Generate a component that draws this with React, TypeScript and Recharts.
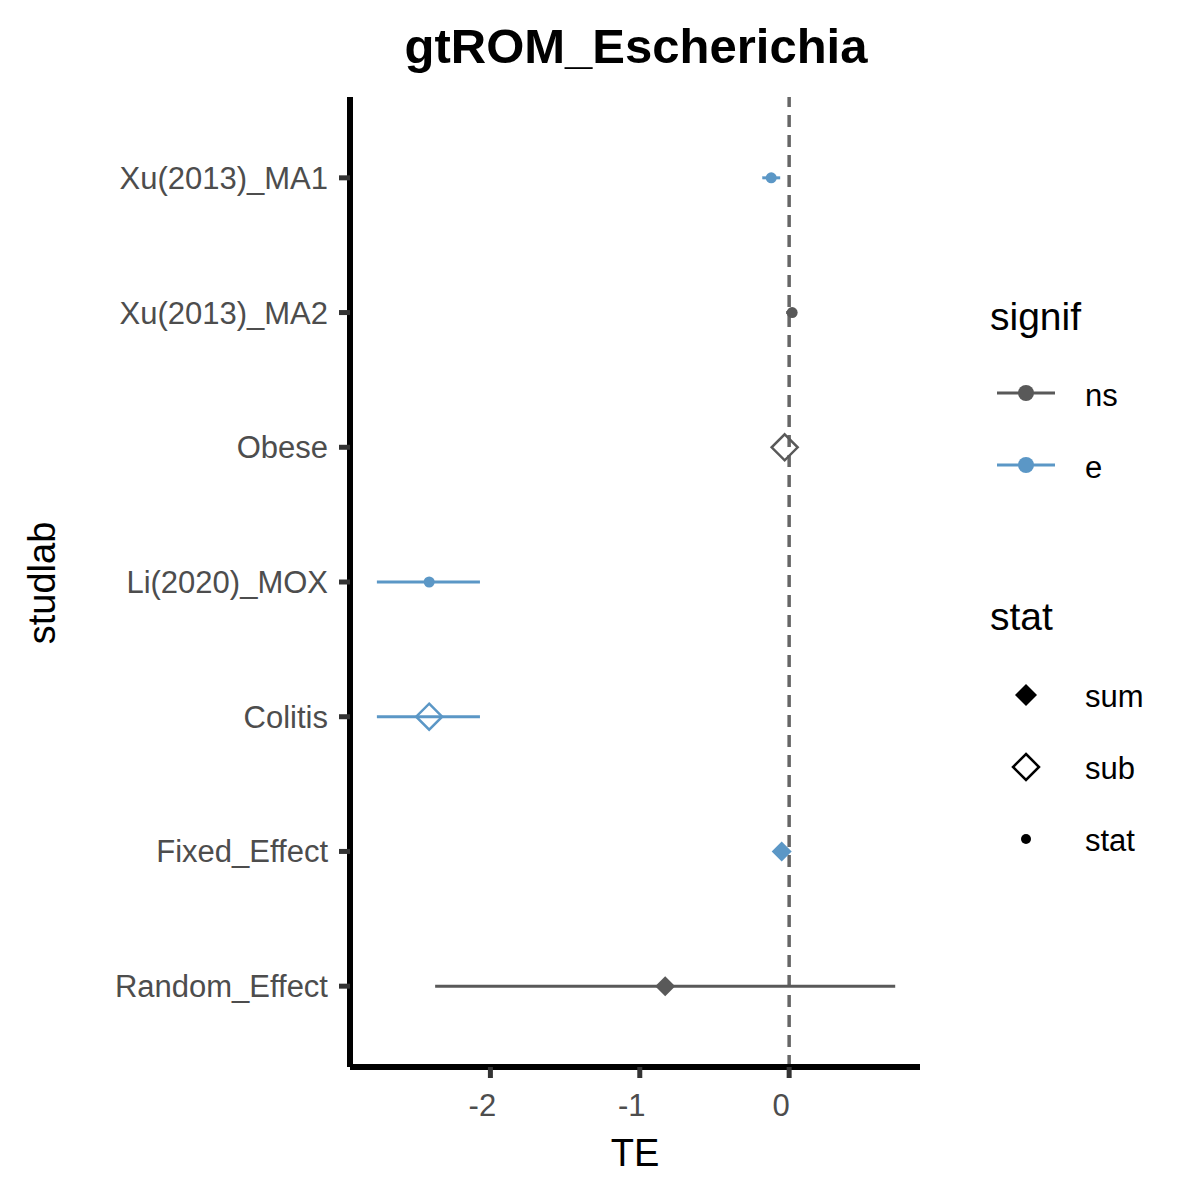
import { ScatterChart, Scatter, XAxis, YAxis, ErrorBar, ReferenceLine } from "recharts";

const labels = ["Xu(2013)_MA1", "Xu(2013)_MA2", "Obese", "Li(2020)_MOX", "Colitis", "Fixed_Effect", "Random_Effect"];
const te = [-0.12, 0.02, -0.03, -2.41, -2.41, -0.05, -0.83];
const lower = [-0.18, -0.02, -0.03, -2.76, -2.76, -0.05, -2.37];
const upper = [-0.06, 0.05, -0.03, -2.07, -2.07, -0.05, 0.71];
const signif = ["e", "ns", "ns", "e", "e", "e", "ns"];
const stat = ["stat", "stat", "sub", "stat", "sub", "sum", "sum"];
const xTicks = [-2, -1, 0];

const GREY = "#595959";
const BLUE = "#5b97c6";

const rows = labels.map((lab, i) => ({
  lab,
  idx: i + 1,
  te: te[i],
  err: [te[i] - lower[i], upper[i] - te[i]],
  signif: signif[i],
  stat: stat[i],
}));

const Mark = (color: string) => (props: any) => {
  const { cx, cy, payload } = props;
  if (payload.stat === "stat") return <circle cx={cx} cy={cy} r={5.5} fill={color} />;
  const s = payload.stat === "sum" ? 10 : 13;
  const d = `M${cx},${cy - s}L${cx + s},${cy}L${cx},${cy + s}L${cx - s},${cy}Z`;
  return payload.stat === "sum" ? (
    <path d={d} fill={color} />
  ) : (
    <path d={d} fill="none" stroke={color} strokeWidth={2.5} />
  );
};

const font = "Liberation Sans, Arial, sans-serif";

const YTick = (props: any) => {
  const { y, payload } = props;
  return (
    <g>
      <line x1={339} x2={350} y1={y} y2={y} stroke="#333" strokeWidth={5} />
      <text x={328} y={y} dy={11} textAnchor="end" fill="#4d4d4d" fontSize={31} fontFamily={font}>
        {labels[payload.value - 1]}
      </text>
    </g>
  );
};

const XTick = (props: any) => {
  const { x, payload } = props;
  return (
    <g>
      <line x1={x} x2={x} y1={1067} y2={1078} stroke="#333" strokeWidth={5} />
      <text x={x - 8} y={1116} textAnchor="middle" fill="#4d4d4d" fontSize={31} fontFamily={font}>
        {payload.value}
      </text>
    </g>
  );
};

export default function App() {
  return (
    <div style={{ position: "absolute", left: 0, top: 0, width: 1200, height: 1200, background: "#fff", fontFamily: font }}>
      <div style={{ position: "absolute", top: 18, left: 0, width: 1272, textAlign: "center", fontSize: 49, fontWeight: "bold" }}>
        gtROM_Escherichia
      </div>
      <ScatterChart width={1200} height={1200} margin={{ top: 97, right: 280, bottom: 0, left: 0 }}>
        <XAxis
          type="number"
          dataKey="te"
          domain={[-2.94, 0.876]}
          ticks={xTicks}
          allowDataOverflow
          height={133}
          axisLine={{ stroke: "#000", strokeWidth: 6 }}
          tickLine={false}
          tick={<XTick />}
        />
        <YAxis
          type="number"
          dataKey="idx"
          domain={[0.4, 7.6]}
          reversed
          ticks={[1, 2, 3, 4, 5, 6, 7]}
          width={350}
          axisLine={{ stroke: "#000", strokeWidth: 6 }}
          tickLine={false}
          tick={<YTick />}
        />
        <ReferenceLine x={0} stroke="#666" strokeWidth={3.5} strokeDasharray="12 8" />
        <Scatter data={rows.filter((r) => r.signif === "ns")} shape={Mark(GREY)} isAnimationActive={false}>
          <ErrorBar dataKey="err" direction="x" width={0} stroke={GREY} strokeWidth={3} />
        </Scatter>
        <Scatter data={rows.filter((r) => r.signif === "e")} shape={Mark(BLUE)} isAnimationActive={false}>
          <ErrorBar dataKey="err" direction="x" width={0} stroke={BLUE} strokeWidth={3} />
        </Scatter>
      </ScatterChart>
      <svg width={1200} height={1200} style={{ position: "absolute", left: 0, top: 0, pointerEvents: "none" }} fontFamily={font}>
        <text x={635} y={1166} fontSize={38} textAnchor="middle">TE</text>
        <text x={0} y={0} fontSize={38} textAnchor="middle" transform="translate(55,583) rotate(-90)">studlab</text>
        <text x={990} y={330} fontSize={39}>signif</text>
        <line x1={997} x2={1055} y1={393} y2={393} stroke={GREY} strokeWidth={3} />
        <circle cx={1026} cy={393} r={8} fill={GREY} />
        <text x={1085} y={406} fontSize={31}>ns</text>
        <line x1={997} x2={1055} y1={465} y2={465} stroke={BLUE} strokeWidth={3} />
        <circle cx={1026} cy={465} r={8} fill={BLUE} />
        <text x={1085} y={478} fontSize={31}>e</text>
        <text x={990} y={630} fontSize={39}>stat</text>
        <path d="M1026,684L1037,695L1026,706L1015,695Z" fill="#000" />
        <text x={1085} y={707} fontSize={31}>sum</text>
        <path d="M1026,754L1039,767L1026,780L1013,767Z" fill="none" stroke="#000" strokeWidth={2.5} />
        <text x={1085} y={779} fontSize={31}>sub</text>
        <circle cx={1026} cy={839} r={5} fill="#000" />
        <text x={1085} y={851} fontSize={31}>stat</text>
      </svg>
    </div>
  );
}
